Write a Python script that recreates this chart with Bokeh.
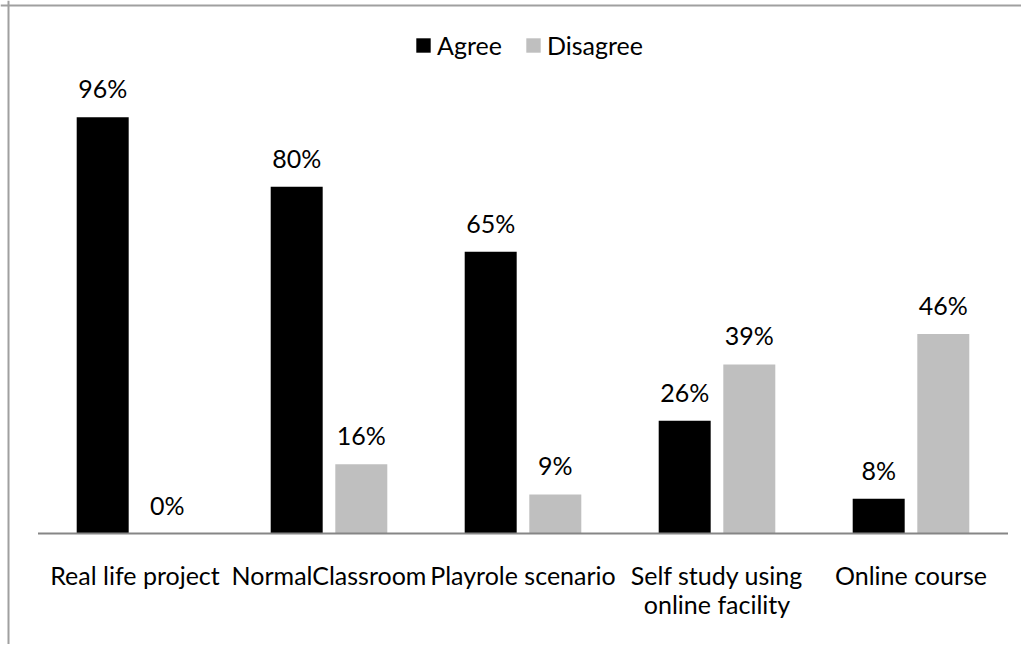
from bokeh.plotting import figure
from bokeh.models import ColumnDataSource, Range1d, Legend, LegendItem, Span
from bokeh.core.properties import value
from bokeh.embed import file_html
from bokeh.resources import INLINE

# ---- data ----
categories = ["Real life project", "NormalClassroom", "Playrole scenario",
              "Self study using\nonline facility", "Online course"]
agree = [96, 80, 65, 26, 8]
disagree = [0, 16, 9, 39, 46]
series_names = ["Agree", "Disagree"]

# ---- style / layout ----
FONT = "Lato"
FS = "25px"
AGREE_COLOR = "#000000"
DISAGREE_COLOR = "#BFBFBF"
BORDER_COLOR = "#A0A0A0"
W, H = 1021, 644
CAT_PX = 194.0      # pixel width of one category slot
X0_PX = 37.5        # canvas x of category axis start
PX_PER_UNIT = 4.335 # pixels per percentage point
Y0_PX = 533.0       # canvas y of baseline
OFFSET = 0.1665
BAR_W = 0.268

x_start = -X0_PX / CAT_PX
x_end = (W - X0_PX) / CAT_PX
y_end = Y0_PX / PX_PER_UNIT
y_start = -(H - Y0_PX) / PX_PER_UNIT

n = len(categories)
centers = [i + 0.5 for i in range(n)]
line1 = [c.split("\n")[0] for c in categories]
line2 = [c.split("\n")[1] if "\n" in c else "" for c in categories]

src = ColumnDataSource(dict(
    xa=[c - OFFSET for c in centers],
    xd=[c + OFFSET for c in centers],
    xc=centers,
    agree=agree,
    disagree=disagree,
    la=[f"{v}%" for v in agree],
    ld=[f"{v}%" for v in disagree],
    zero=[0] * n,
    line1=line1,
    line2=line2,
))

p = figure(width=W, height=H, output_backend="svg", toolbar_location=None,
           x_range=Range1d(x_start, x_end), y_range=Range1d(y_start, y_end),
           x_axis_type=None, y_axis_type=None, min_border=0,
           outline_line_color=None, background_fill_color="white",
           border_fill_color="white")
p.grid.visible = False

ra = p.vbar(x="xa", top="agree", bottom=0, width=BAR_W, source=src,
            fill_color=AGREE_COLOR, line_color=None)
rd = p.vbar(x="xd", top="disagree", bottom=0, width=BAR_W, source=src,
            fill_color=DISAGREE_COLOR, line_color=None)

# baseline (category axis line)
p.line(x=[0, n], y=[0, 0], line_color="#868686", line_width=2)

# value labels
for xcol, ycol, tcol in (("xa", "agree", "la"), ("xd", "disagree", "ld")):
    p.text(x=xcol, y=ycol, text=tcol, source=src, text_align="center",
           text_baseline="alphabetic", y_offset=-29,
           text_font=value(FONT), text_font_size=FS, text_color="#000000")

# category labels
p.text(x="xc", y="zero", text="line1", source=src, text_align="center",
       text_baseline="alphabetic", y_offset=41,
       text_font=value(FONT), text_font_size=FS, text_color="#000000")
p.text(x="xc", y="zero", text="line2", source=src, text_align="center",
       text_baseline="alphabetic", y_offset=70,
       text_font=value(FONT), text_font_size=FS, text_color="#000000")

# chart-area border (left and top edges)
p.add_layout(Span(location=x_start + 8.0 / CAT_PX, dimension="height",
                  line_color=BORDER_COLOR, line_width=2))
p.add_layout(Span(location=y_end - 5.0 / PX_PER_UNIT, dimension="width",
                  line_color=BORDER_COLOR, line_width=2))

legend = Legend(items=[LegendItem(label=series_names[0], renderers=[ra]),
                       LegendItem(label=series_names[1], renderers=[rd])],
                orientation="horizontal", location=(414, 584),
                glyph_width=18, glyph_height=18, label_standoff=5, spacing=22,
                padding=0, margin=0, border_line_color=None,
                background_fill_alpha=0,
                label_text_font=FONT, label_text_font_size=FS,
                label_text_color="#000000", label_text_baseline="middle")
p.add_layout(legend, "center")

open("out.html", "w").write(file_html(p, INLINE))
